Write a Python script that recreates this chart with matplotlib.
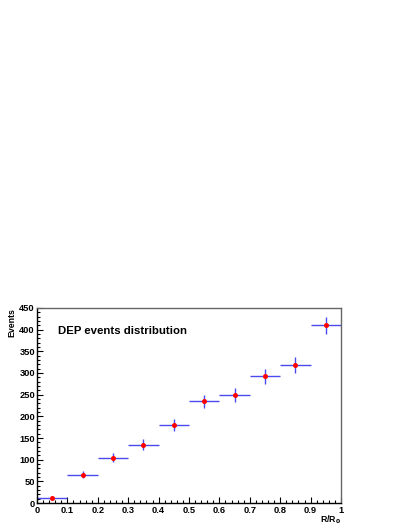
import numpy as np
import matplotlib.pyplot as plt
from matplotlib.ticker import MultipleLocator

# bin centres in R/R0 and counts per bin
r_centres = [0.05, 0.15, 0.25, 0.35, 0.45, 0.55, 0.65, 0.75, 0.85, 0.95]
r_halfwidth = [0.05] * 10
counts = [11, 65, 105, 135, 180, 235, 250, 292, 319, 410]
count_err = [3, 8, 10, 12, 13, 15, 16, 17, 18, 20]

plt.rcParams['font.family'] = ['Liberation Sans', 'DejaVu Sans']

fig = plt.figure(figsize=(4.09, 5.29), dpi=100)
ax = fig.add_axes([0.0905, 0.0491, 0.7432, 0.3687])

ax.errorbar(r_centres, counts, xerr=r_halfwidth, yerr=count_err,
            fmt='none', ecolor='#4a4af0', elinewidth=1.0, capsize=0)
ax.plot(r_centres, counts, 'o', color='red', markersize=3.6, markeredgewidth=0)

ax.set_xlim(0, 1)
ax.set_ylim(0, 450)
ax.xaxis.set_major_locator(MultipleLocator(0.1))
ax.xaxis.set_minor_locator(MultipleLocator(0.02))
ax.yaxis.set_major_locator(MultipleLocator(50))
ax.yaxis.set_minor_locator(MultipleLocator(10))
ax.xaxis.set_major_formatter(plt.FuncFormatter(lambda v, p: '%g' % round(v, 1)))

ax.tick_params(which='both', direction='in', top=False, right=False,
               labelsize=6.7, width=0.8, colors='black')
ax.tick_params(which='major', length=4.5)
ax.tick_params(which='minor', length=2.2)
ax.tick_params(axis='x', pad=2)
ax.tick_params(axis='y', pad=1.5)
for lab in ax.get_xticklabels() + ax.get_yticklabels():
    lab.set_fontweight('bold')

for side in ['left', 'bottom']:
    ax.spines[side].set_color('black')
    ax.spines[side].set_linewidth(1.0)
for side in ['top', 'right']:
    ax.spines[side].set_color('#666666')
    ax.spines[side].set_linewidth(1.0)

ax.text(0.07, 0.883, 'DEP events distribution', transform=ax.transAxes,
        fontsize=8.2, fontweight='bold', va='center', ha='left')

fig.text(12 / 409, 1 - 308 / 529, 'Events', rotation=90, fontsize=6.3,
         fontweight='bold', ha='center', va='top')
fig.text(341 / 409, 1 - 520 / 529, r'R/R$_{\mathbf{0}}$', fontsize=6.3,
         fontweight='bold', ha='right', va='center')

fig.savefig('out.png', dpi=100)
